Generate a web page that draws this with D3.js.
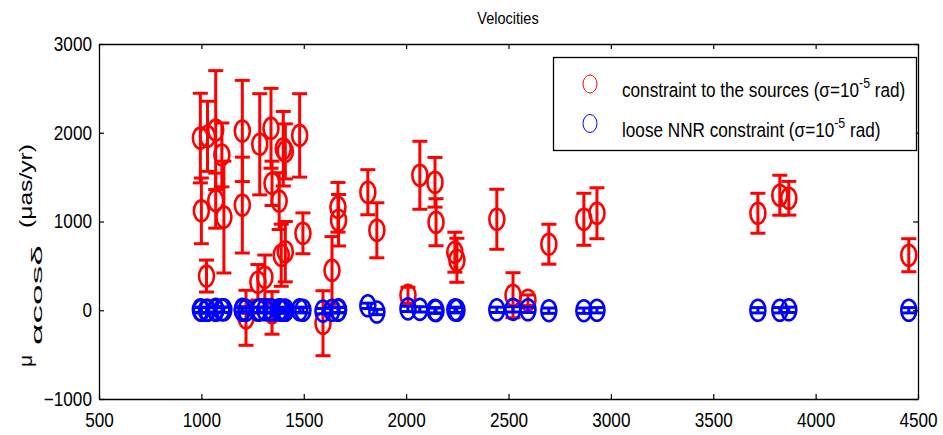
<!DOCTYPE html>
<html>
<head>
<meta charset="utf-8">
<script src="https://cdn.jsdelivr.net/npm/d3@7"></script>
<style>
  html, body { margin: 0; padding: 0; background: #fff; }
  svg { display: block; }
  text { font-family: "Liberation Sans", Arial, sans-serif; fill: #000; }
</style>
</head>
<body>
<svg id="chart" width="943" height="435"></svg>
<script>
// Source velocities: x position, value and 1-sigma error for each solution
const srcX   = [995, 1030, 1070, 1100, 1000, 1070, 1110, 1025, 1200, 1200, 1285, 1340, 1410, 1400, 1480,
                1345, 1380, 1390, 1410, 1276, 1310, 1218, 1345, 1496, 1667, 1670, 1638, 1594, 1813, 1857,
                2009, 2067, 2141, 2146, 2238, 2248, 2443, 2522, 2595, 2697, 2868, 2932, 3718, 3825, 3869, 4455];
const srcVal = [1940, 1960, 2030, 1750, 1120, 1235, 1050, 385, 2020, 1185, 1870, 2050, 1790, 1820, 1970,
                1430, 1230, 620, 660, 315, 372, -85, -30, 867, 1160, 1014, 450, -146, 1330, 901,
                169, 1521, 1442, 992, 654, 563, 1025, 169, 113, 744, 1025, 1093, 1093, 1296, 1262, 620];
const srcErr = [505, 395, 670, 360, 370, 310, 630, 180, 570, 540, 570, 450, 310, 420, 470,
                250, 320, 350, 340, 200, 250, 310, 240, 230, 280, 290, 380, 366, 254, 310,
                90, 383, 280, 265, 225, 248, 338, 254, 60, 225, 293, 287, 225, 225, 190, 186];

// Loose NNR solution: same sources, values close to zero
const nnrVal = [5, 0, 10, 5, 0, 0, 5, 0, 0, 10, 5, 5, 0, 0, 5,
                0, 5, 0, 0, 0, 5, 0, 0, 0, 0, 5, 0, -10, 50, -20,
                15, 10, 0, -5, 5, 0, 5, 10, 5, -5, -5, 0, 0, 0, 5, 0];
const nnrErr = 30;

const xTicks = [500, 1000, 1500, 2000, 2500, 3000, 3500, 4000, 4500];
const yTicks = [-1000, 0, 1000, 2000, 3000];

const legendLabels = [
  { color: "#ff0000", main: "constraint to the sources (\u03c3=10", sup: "-5", tail: " rad)" },
  { color: "#0000ff", main: "loose NNR constraint (\u03c3=10", sup: "-5", tail: " rad)" }
];

const svg = d3.select("#chart");
const L = 99, R = 918, T = 44, B = 399;
const SX = 0.88; // horizontal squeeze applied to all text
const x = d3.scaleLinear().domain([500, 4500]).range([L, R]);
const y = d3.scaleLinear().domain([-1000, 3000]).range([B, T]);

const plot = svg.append("g");

function drawSeries(vals, errs, color) {
  const g = plot.append("g").attr("stroke", color).attr("fill", "none");
  const cap = 7.5;
  vals.forEach((v, i) => {
    const e = Array.isArray(errs) ? errs[i] : errs;
    const cx = x(srcX[i]);
    g.append("line").attr("x1", cx).attr("x2", cx)
      .attr("y1", y(v + e)).attr("y2", y(v - e)).attr("stroke-width", 3);
    g.append("line").attr("x1", cx - cap).attr("x2", cx + cap)
      .attr("y1", y(v + e)).attr("y2", y(v + e)).attr("stroke-width", 3);
    g.append("line").attr("x1", cx - cap).attr("x2", cx + cap)
      .attr("y1", y(v - e)).attr("y2", y(v - e)).attr("stroke-width", 3);
    g.append("ellipse").attr("cx", cx).attr("cy", y(v))
      .attr("rx", 7.5).attr("ry", 10.5).attr("stroke-width", 2.6);
  });
}
drawSeries(srcVal, srcErr, "#ff0000");
drawSeries(nnrVal, nnrErr, "#0000ff");

// Axes box with inward ticks on all four sides
const axG = svg.append("g");
const axes = [
  axG.append("g").attr("transform", `translate(0,${B})`)
    .call(d3.axisBottom(x).tickValues(xTicks).tickSizeInner(-5).tickSizeOuter(0).tickPadding(14).tickFormat(d3.format("d"))),
  axG.append("g").attr("transform", `translate(0,${T})`)
    .call(d3.axisTop(x).tickValues(xTicks).tickSizeInner(-5).tickSizeOuter(0).tickFormat("")),
  axG.append("g").attr("transform", `translate(${L},0)`)
    .call(d3.axisLeft(y).tickValues(yTicks).tickSizeInner(-5).tickSizeOuter(0).tickPadding(8).tickFormat(d3.format("d"))),
  axG.append("g").attr("transform", `translate(${R},0)`)
    .call(d3.axisRight(y).tickValues(yTicks).tickSizeInner(-5).tickSizeOuter(0).tickFormat(""))
];
axes.forEach(a => a.attr("font-size", 19.5).attr("font-family", "'Liberation Sans', Arial, sans-serif"));
axG.selectAll("path.domain").attr("stroke", "#000").attr("stroke-width", 1.3);
axG.selectAll(".tick line").attr("stroke", "#000").attr("stroke-width", 1.2);
axG.selectAll(".tick text").attr("fill", "#000").attr("transform", `scale(${SX},1)`);

// Title
svg.append("text").attr("transform", `translate(508,24) scale(${SX},1)`)
  .attr("text-anchor", "middle").attr("font-size", 16.5).text("Velocities");

// Y-axis label, built bottom-up
const ylab = svg.append("g").attr("transform", "translate(32,0)");
ylab.append("text").attr("transform", `translate(0,367) rotate(-90) scale(1,${SX})`)
  .attr("font-size", 21).text("\u03bc");
ylab.append("text").attr("transform", `translate(10,345) rotate(-90) scale(1,${SX})`)
  .attr("font-size", 16).attr("textLength", 100).attr("lengthAdjust", "spacingAndGlyphs").text("\u03b1cos\u03b4");
ylab.append("text").attr("transform", `translate(0,228) rotate(-90) scale(1,${SX})`)
  .attr("font-size", 21).attr("textLength", 84).attr("lengthAdjust", "spacingAndGlyphs").text("(\u03bcas/yr)");

// Legend
const lg = svg.append("g");
lg.append("rect").attr("x", 553.5).attr("y", 57.5).attr("width", 363).attr("height", 93)
  .attr("fill", "#fff").attr("stroke", "#000").attr("stroke-width", 1.3);
legendLabels.forEach((d, i) => {
  const cy = 84 + i * 39.5;
  lg.append("ellipse").attr("cx", 590).attr("cy", cy).attr("rx", 7).attr("ry", 9)
    .attr("fill", "none").attr("stroke", d.color).attr("stroke-width", 1);
  const t = lg.append("text").attr("transform", `translate(622,${cy + 13}) scale(${SX},1)`)
    .attr("font-size", 19.5);
  t.append("tspan").text(d.main);
  t.append("tspan").attr("dy", -9).attr("font-size", 14).text(d.sup);
  t.append("tspan").attr("dy", 9).text(d.tail);
});
</script>
</body>
</html>
